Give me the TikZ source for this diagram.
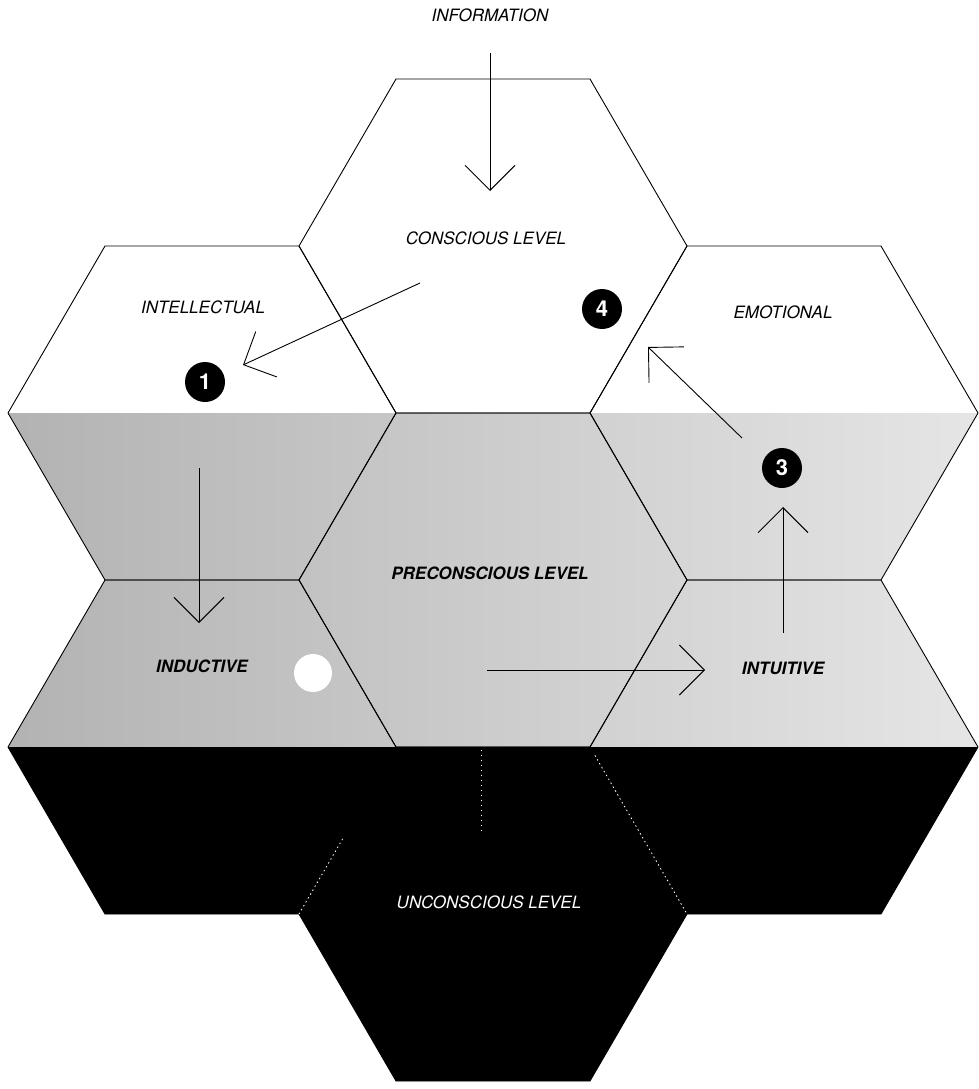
\documentclass[tikz,border=0pt]{standalone}
\usepackage{fontspec}
\setmainfont{TeX Gyre Heros}
\usetikzlibrary{arrows.meta,calc}
\begin{document}
\begin{tikzpicture}[x=1pt,y=-1pt,
  hexedge/.style={draw=black,line width=0.9pt,line join=round},
  arr/.style={draw=black,line width=0.9pt,-{Straight Barb[length=25pt,width=50pt,line width=0.9pt]}},
  lab/.style={font=\fontsize{17}{20}\selectfont\itshape,inner sep=0pt},
  blab/.style={font=\fontsize{17}{20}\selectfont\bfseries\itshape,inner sep=0pt},
  num/.style={circle,fill=black,minimum size=40pt,inner sep=0pt,text=white,font=\fontsize{22}{22}\selectfont\bfseries},
  blank/.style={circle,fill=white,minimum size=38pt,inner sep=0pt},
  whitedot/.style={draw=white,line width=0.8pt,dash pattern=on 1.5pt off 3pt}
]
\useasboundingbox (0,0) rectangle (979,1089);
\fill[white] (0,0) rectangle (979,1089);

% hexagon centres (flat-top honeycomb)
\foreach \n/\cx/\cy in {con/493/246,int/202/413,emo/784/413,pre/493/580,ind/202/747,itu/784/747,unc/493/914}{
  \coordinate (\n) at (\cx,\cy);
}

% middle (preconscious) band: stippled grey
\shade[left color=black!30,right color=black!10]
  (8,413) -- (105,580) -- (8,747) -- (978,747) -- (881,580) -- (978,413) -- cycle;

% hexagon outlines
\foreach \cx/\cy in {493/246,202/413,784/413,493/580,202/747,784/747,493/914}{
  \draw[hexedge] (\cx-194,\cy) -- (\cx-97,\cy-167) -- (\cx+97,\cy-167) -- (\cx+194,\cy)
    -- (\cx+97,\cy+167) -- (\cx-97,\cy+167) -- cycle;
}

% lower (unconscious) band: black
\fill[black] (8,747) -- (105,914) -- (299,914) -- (396,1081) -- (590,1081) -- (687,914)
  -- (881,914) -- (978,747) -- cycle;

% faint white edges inside the black band
\coordinate (lu1) at (396,747);
\coordinate (lu2) at (299,914);
\coordinate (ru1) at (590,747);
\coordinate (ru2) at (687,914);
\draw[whitedot] ($(lu1)!0.55!(lu2)$) -- (lu2);
\draw[whitedot] ($(ru1)!0.05!(ru2)$) -- (ru2);
\coordinate (dv1) at (481,750);
\coordinate (dv2) at (481,833);
\draw[draw=white,line width=0.9pt,dash pattern=on 1pt off 4pt] (dv1) -- (dv2);

% labels
\node[lab] (info) at (490,15) {INFORMATION};
\node[lab] (conl) at (486,238) {CONSCIOUS LEVEL};
\node[lab] (intl) at (203,307) {INTELLECTUAL};
\node[lab] (emol) at (783,312) {EMOTIONAL};
\node[blab] (prel) at (490,573) {PRECONSCIOUS LEVEL};
\node[blab] (indl) at (202,666) {INDUCTIVE};
\node[blab] (itul) at (783,668) {INTUITIVE};
\node[lab,text=white] (uncl) at (489,902) {UNCONSCIOUS LEVEL};

% numbered markers
\node[num] (n1) at (205,382) {1};
\node[blank] (n2) at (313,673) {};
\node[num] (n3) at (782,468) {3};
\node[num] (n4) at (602,309) {4};

% arrows
\coordinate (a1s) at (490,53);   \coordinate (a1e) at (490,191);
\coordinate (a2s) at (420,283);  \coordinate (a2e) at (243,365);
\coordinate (a3s) at (199,468);  \coordinate (a3e) at (199,623);
\coordinate (a4s) at (487,670);  \coordinate (a4e) at (705,670);
\coordinate (a5s) at (783,633);  \coordinate (a5e) at (783,507);
\coordinate (a6s) at (742,438);  \coordinate (a6e) at (648,347);
\draw[arr] (a1s) -- (a1e);
\draw[arr] (a2s) -- (a2e);
\draw[arr] (a3s) -- (a3e);
\draw[arr] (a4s) -- (a4e);
\draw[arr] (a5s) -- (a5e);
\draw[arr] (a6s) -- (a6e);
\end{tikzpicture}
\end{document}
